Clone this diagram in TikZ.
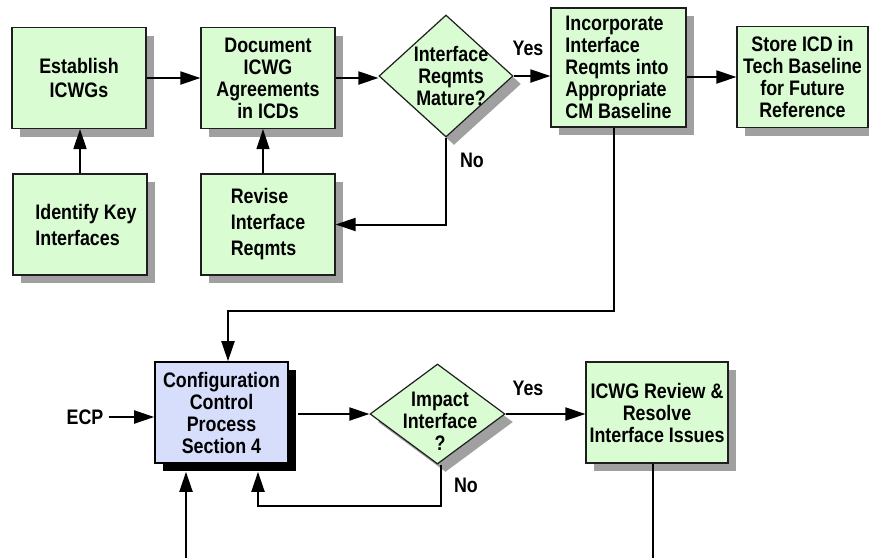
\documentclass[tikz,border=0pt]{standalone}
\usepackage{fontspec}
\setmainfont{Liberation Sans}[FakeStretch=0.85]
\usetikzlibrary{arrows.meta,shapes.geometric,shadows}
\definecolor{boxgreen}{RGB}{218,252,210}
\definecolor{boxblue}{RGB}{214,222,252}
\definecolor{shadowgray}{RGB}{160,160,160}
\definecolor{edgegray}{RGB}{30,30,30}
\begin{document}
\begin{tikzpicture}[x=1pt,y=-1pt,
  every node/.style={font=\fontsize{21}{22}\selectfont\bfseries, inner sep=0pt},
  greenbox/.style={draw=edgegray, line width=1.2pt, fill=boxgreen, align=center,
    minimum width=134pt, minimum height=101pt,
    drop shadow={shadow xshift=8pt, shadow yshift=-8pt, fill=shadowgray, opacity=1}},
  bluebox/.style={draw=black, line width=1.6pt, fill=boxblue, align=center,
    minimum width=133pt, minimum height=101pt,
    drop shadow={shadow xshift=8pt, shadow yshift=-8pt, fill=black, opacity=1}},
  decision/.style={diamond, draw=edgegray, line width=1.2pt, fill=boxgreen,
    minimum width=134pt, minimum height=122pt,
    drop shadow={shadow xshift=8pt, shadow yshift=-8pt, fill=shadowgray, opacity=1}},
  dtext/.style={align=center},
  flow/.style={line width=2pt, -{Triangle[length=20pt,width=13pt]}},
  thinflow/.style={line width=1.2pt, -{Triangle[length=20pt,width=13pt]}},
  plain/.style={line width=2pt},
  ]
\useasboundingbox (0,0) rectangle (869,558);

% upper row
\node[greenbox, font=\fontsize{21}{24}\selectfont\bfseries] (est) at (79,78) {Establish\\ICWGs};
\node[greenbox] (doc) at (268,78) {Document\\ICWG\\Agreements\\in ICDs};
\node[decision] (d1) at (446,76) {};
\node[dtext] (d1t) at (451,76) {Interface\\Reqmts\\Mature?};
\node[greenbox, align=left, minimum width=135pt, minimum height=119pt] (inc) at (618.5,67.5)
  {Incorporate\\Interface\\Reqmts into\\Appropriate\\CM Baseline};
\node[greenbox, minimum width=131pt] (store) at (802.5,77) {Store ICD in\\Tech Baseline\\for Future\\Reference};

% second row
\node[greenbox, align=left, font=\fontsize{21}{26}\selectfont\bfseries] (ident) at (80,224.5)
  {\hspace*{12pt}Identify Key\\\hspace*{12pt}Interfaces};
\node[greenbox, align=left, font=\fontsize{21}{26}\selectfont\bfseries] (rev) at (268,224.5) {Revise\\Interface\\Reqmts};

% lower row
\node (ecp) at (85,417) {ECP};
\node[bluebox] (cfg) at (221.5,412.5) {Configuration\\Control\\Process\\Section 4};
\node[decision, minimum width=135pt, minimum height=100pt] (d2) at (437.5,414) {};
\node[dtext] (d2t) at (440,421) {Impact\\Interface\\?};
\node[greenbox, minimum width=142pt] (icwg) at (657,412.5) {ICWG Review \&\\Resolve\\Interface Issues};

% branch labels
\node (yes1) at (528,48) {Yes};
\node (no1) at (472,160) {No};
\node (yes2) at (528,388) {Yes};
\node (no2) at (466,485) {No};

% connectors, upper part
\draw[flow] (est.east) -- (doc.west);
\draw[flow] (doc.east) -- (doc.east -| d1.west);
\draw[flow] (d1.east) -- (d1.east -| inc.west);
\draw[flow] (store.west -| inc.east) -- (store.west);
\draw[flow] (ident.north) -- (ident.north |- est.south);
\draw[thinflow] ([xshift=-5pt]rev.north) -- ([xshift=-5pt]doc.south);
\draw[flow] (d1.south) |- (rev.east);

% connectors, lower part
\coordinate (j1) at (228,311);
\draw[flow] ([xshift=-5pt]inc.south) |- (j1) -- (j1 |- cfg.north);
\draw[flow] ([xshift=5pt]ecp.east) -- (ecp.east -| cfg.west);
\coordinate (c1) at ([xshift=9pt]cfg.east);
\draw[flow] (c1 |- d2.west) -- (d2.west);
\draw[flow] (d2.east) -- (d2.east -| icwg.west);
\coordinate (cfgsb) at ([yshift=-8pt]cfg.south);
\coordinate (j2) at (258,506);
\draw[flow] ([xshift=3pt]d2.south) |- (j2) -- (j2 |- cfgsb);
\coordinate (b1) at (186,558);
\draw[flow] (b1) -- (b1 |- cfgsb);
\coordinate (b2) at (653,558);
\draw[plain] (b2 |- icwg.south) -- (b2);
\end{tikzpicture}
\end{document}
